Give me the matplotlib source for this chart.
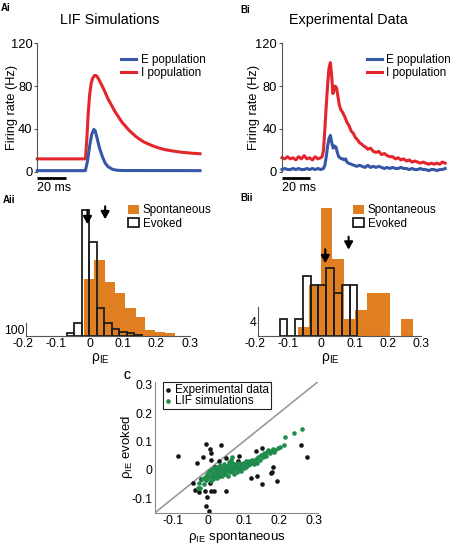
import numpy as np
import matplotlib
matplotlib.use('Agg')
import matplotlib.pyplot as plt

plt.rcParams['font.family'] = ['Liberation Sans', 'DejaVu Sans']
plt.rcParams['mathtext.fontset'] = 'custom'
plt.rcParams['mathtext.rm'] = 'Liberation Sans'
plt.rcParams['mathtext.it'] = 'Liberation Sans:italic'
plt.rcParams['axes.unicode_minus'] = False

BLUE = '#3557a6'
RED = '#e2262c'
ORANGE = '#e07e22'
GREEN = '#1f8b4c'
SPINE = '#555555'

# ---- Ai: LIF simulations, firing rate (Hz) against time (ms)
lif_t_e = [0, 34, 35.5, 37, 38.5, 40, 41, 42.5, 44, 46, 48, 50, 53, 56, 60, 115]
lif_e = [1, 1, 10, 24, 35, 39.5, 38, 30, 22, 14, 8, 4.7, 2.3, 1.4, 1.1, 1]
lif_t_i = [0, 34, 35, 36, 37, 38, 39, 40.5, 42, 44, 47, 50, 55, 60, 65, 70, 75,
           80, 85, 90, 95, 100, 105, 110, 115]
lif_i = [12, 12, 30, 55, 72, 82, 87, 90, 89.5, 85, 77, 68, 56, 46, 38.5, 32.5, 28,
         25, 22.5, 20.7, 19.5, 18.5, 17.8, 17.2, 16.8]

# ---- Bi: experimental data
exp_t_i = [0, 2, 4, 6, 8, 10, 12, 14, 16, 18, 20, 22, 24, 26, 28, 29, 30, 31, 32, 33,
           34, 35, 36, 36.8, 37.5, 38.5, 39.5, 40.5, 41.5, 42.5, 44, 45.5, 47, 48.5,
           50, 51.5, 53, 54.5, 56, 57.5, 59, 60.5, 62, 64, 66, 68, 70, 72, 74, 76, 78,
           80, 82, 84, 86, 88, 90, 92, 94, 96, 98, 100, 102, 104, 106, 108, 110, 112,
           114, 116, 118]
exp_i = [13, 12, 14, 12, 13, 11, 14, 12, 15, 12, 13, 11, 14, 12, 13, 14, 20, 40, 62, 82,
         97, 102, 88, 73, 76, 80, 78, 70, 62, 58, 55, 51, 46, 43,
         38, 36, 32, 30, 27, 26, 24, 23, 21, 22, 19, 18, 19, 16, 17, 15, 14,
         14, 12, 13, 11, 12, 10, 11, 9, 10, 9, 8, 9, 8, 7, 8, 7, 8,
         7, 9, 8]
exp_t_e = [0, 2, 4, 6, 8, 10, 12, 14, 16, 18, 20, 22, 24, 26, 28, 30, 31, 32, 33, 34,
           35, 36, 37, 38, 39, 40, 41, 42, 43, 44, 45, 46, 47, 48, 50, 52, 54, 56, 58,
           60, 62, 64, 66, 68, 70, 72, 74, 76, 78, 80, 82, 84, 86, 88, 90, 92, 94, 96,
           98, 100, 102, 104, 106, 108, 110, 112, 114, 116, 118]
exp_e = [2, 3, 2, 2, 3, 2, 3, 2, 2, 3, 2, 3, 2, 3, 2, 3, 6, 14, 24, 31,
         34, 27, 22, 24, 23, 18, 14, 13, 12, 12, 11, 12, 9, 8, 7, 6, 5, 6, 5,
         4, 6, 4, 5, 4, 5, 4, 3, 4, 3, 4, 3, 3, 4, 3, 3, 2, 3, 2,
         2, 3, 2, 2, 1, 2, 2, 1, 2, 2, 3]

# ---- Aii: LIF rho_IE histograms
lif_evk_edges = [-0.0684, -0.0459, -0.0234, -0.0009, 0.0216, 0.0441, 0.0666, 0.0891,
                 0.1116, 0.1341, 0.1566]
lif_evk_counts = [21, 108, 1042, 783, 233, 108, 50, 29, 21, 8]
lif_spt_edges = [-0.017, 0.015, 0.046, 0.077, 0.108, 0.139, 0.168, 0.198, 0.228, 0.258]
lif_spt_counts = [467, 633, 442, 350, 233, 150, 46, 29, 17]
lif_means = {'evoked': -0.006, 'spont': 0.047}

# ---- Bii: experimental rho_IE histograms
exp_evk_edges = [-0.125, -0.1017, -0.0784, -0.0551, -0.0318, -0.0085, 0.0148, 0.0381,
                 0.0614, 0.0847, 0.108]
exp_evk_counts = [2, 0, 2, 7, 6, 6, 8, 5, 6, 6]
exp_spt_edges = [-0.071, -0.0365, -0.002, 0.0325, 0.067, 0.1015, 0.136, 0.1705, 0.205,
                 0.2395, 0.274]
exp_spt_counts = [1, 6, 15, 9, 2, 3, 5, 5, 0, 2]
exp_means = {'evoked': 0.012, 'spont': 0.082}

# ---- C: evoked vs spontaneous rho_IE
exp_spont = [-0.085, -0.005, 0.005, 0.009, 0.037, -0.014, 0.009, -0.031, 0.030, 0.051,
             0.018, 0.088, 0.085, 0.135, 0.153, 0.263, 0.279, 0.183, 0.181, 0.176,
             0.193, 0.153, 0.138, 0.120, -0.042, -0.020, 0.005, -0.036, -0.026, -0.008,
             0.009, 0.016, 0.051, -0.003, -0.005, 0.002, 0.030, 0.060]
exp_evoked = [0.050, 0.092, 0.072, 0.060, 0.086, 0.044, 0.035, 0.023, 0.033, 0.041,
              0.009, 0.050, 0.030, 0.066, 0.076, 0.086, 0.047, 0.012, -0.006, -0.012,
              -0.038, -0.049, -0.020, -0.028, -0.046, -0.032, -0.046, -0.070, -0.076,
              -0.073, -0.073, -0.075, -0.073, -0.096, -0.126, -0.143, -0.020, 0.000]
lif_spont = [-0.030, -0.022, -0.026, -0.018, -0.012, -0.008, -0.005, -0.002, 0.000,
             0.003, 0.005, 0.008, 0.010, 0.012, 0.014, 0.016, 0.018, 0.020, 0.022,
             0.024, 0.026, 0.028, 0.030, 0.032, 0.034, 0.036, 0.038, 0.040, 0.042,
             0.044, 0.046, 0.048, 0.050, 0.052, 0.054, 0.056, 0.058, 0.060, 0.062,
             0.064, 0.066, 0.068, 0.070, 0.072, 0.074, 0.076, 0.078, 0.080, 0.082,
             0.084, 0.086, 0.088, 0.090, 0.092, 0.094, 0.096, 0.098, 0.100, 0.102,
             0.104, 0.106, 0.108, 0.110, 0.113, 0.116, 0.119, 0.122, 0.125, 0.128,
             0.131, 0.135, 0.138, 0.142, 0.146, 0.150, 0.154, 0.158, 0.162, 0.166,
             0.170, 0.174, 0.178, 0.182, 0.186, 0.190, 0.196, 0.204, 0.214, 0.218,
             0.242, 0.264, 0.067, 0.065, 0.015, 0.045, 0.025, 0.058]
lif_evoked = [-0.065, -0.062, -0.045, -0.030, -0.048, -0.025, -0.035, -0.015, -0.028,
              -0.005, -0.020, -0.038, -0.010, 0.002, -0.025, -0.012, 0.006, -0.018,
              -0.004, 0.012, -0.028, -0.010, 0.004, -0.018, 0.016, -0.002, -0.022,
              0.008, -0.012, 0.020, 0.000, -0.015, 0.010, -0.005, 0.014, -0.020, 0.004,
              0.018, -0.008, 0.008, 0.024, -0.002, 0.012, -0.014, 0.004, 0.020, 0.008,
              -0.006, 0.014, 0.026, 0.002, 0.016, 0.008, 0.022, -0.004, 0.012, 0.026,
              0.018, 0.006, 0.022, 0.030, 0.012, 0.024, 0.016, 0.032, 0.020, 0.028,
              0.036, 0.022, 0.030, 0.040, 0.026, 0.046, 0.036, 0.052, 0.044, 0.058,
              0.050, 0.062, 0.070, 0.058, 0.066, 0.072, 0.064, 0.070, 0.076, 0.082,
              0.088, 0.116, 0.130, 0.144, 0.047, 0.035, -0.030, 0.010, 0.000, 0.028]

W, H = 454, 547
fig = plt.figure(figsize=(W / 100, H / 100), dpi=100)


def add_ax(l, t, r, b):
    return fig.add_axes([l / W, 1 - b / H, (r - l) / W, (b - t) / H])


def rate_panel(ax, te, e, ti, i, xmax, ylab_x):
    ax.plot(te, e, color=BLUE, lw=2.2, label='E population', clip_on=False, zorder=3)
    ax.plot(ti, i, color=RED, lw=2.2, label='I population', clip_on=False, zorder=2)
    ax.set_xlim(0, xmax)
    ax.set_ylim(0, 120)
    for s in ['top', 'right', 'bottom']:
        ax.spines[s].set_visible(False)
    ax.spines['left'].set_color(SPINE)
    ax.set_xticks([])
    ax.set_yticks([0, 40, 80, 120])
    ax.tick_params(axis='y', labelsize=9.3, length=2, pad=1.5, color=SPINE)
    ax.set_ylabel('Firing rate (Hz)', fontsize=9.2)
    ax.yaxis.set_label_coords(ylab_x, 0.5)
    # 20 ms scale bar
    ax.plot([0, 20], [-5.5, -5.5], color='k', lw=2, clip_on=False, solid_capstyle='butt')
    ax.text(0, -15.5, '20 ms', fontsize=9, va='center', ha='left')
    ax.legend(loc='upper left', bbox_to_anchor=(0.515, 0.915), frameon=False,
              fontsize=8.4, handlelength=1.3, handletextpad=0.4, labelspacing=0.05,
              borderpad=0, borderaxespad=0)


def hist_panel(ax, se, sc, ee, ec, ymax, bar_h, bar_lab, leg_x, xlab_x):
    ax.bar(se[:-1], sc, width=np.diff(se), align='edge', color=ORANGE, lw=0,
           label='Spontaneous', zorder=1)
    ax.bar(ee[:-1], ec, width=np.diff(ee), align='edge', fill=False, edgecolor='#1e1e1e',
           lw=1.3, label='Evoked', zorder=2)
    ax.set_xlim(-0.2, 0.3)
    ax.set_ylim(0, ymax)
    for s in ['top', 'right']:
        ax.spines[s].set_visible(False)
    ax.spines['left'].set_position(('data', -0.19))
    ax.spines['left'].set_bounds(0, bar_h)
    ax.spines['left'].set_color(SPINE)
    ax.spines['bottom'].set_bounds(-0.19, 0.3)
    ax.spines['bottom'].set_color(SPINE)
    ax.set_yticks([bar_h / 2])
    ax.set_yticklabels([bar_lab])
    ax.tick_params(axis='y', length=0, labelsize=8.8, pad=1)
    ax.set_xticks([-0.2, -0.1, 0, 0.1, 0.2, 0.3])
    ax.set_xticklabels(['-0.2', '-0.1', '0', '0.1', '0.2', '0.3'])
    ax.tick_params(axis='x', length=0, labelsize=8.8, pad=2)
    ax.set_xlabel(r'$\mathrm{\rho_{IE}}$', fontsize=10)
    ax.xaxis.set_label_coords(xlab_x, -0.115)
    ax.legend(loc='upper left', bbox_to_anchor=(leg_x, 0.985), frameon=False,
              fontsize=8.4, handlelength=0.95, handleheight=0.8, handletextpad=0.3,
              labelspacing=0.1, borderpad=0, borderaxespad=0)


ax_ai = add_ax(37.3, 43.3, 200, 171.7)
rate_panel(ax_ai, lif_t_e, lif_e, lif_t_i, lif_i, 115, -0.117)
ax_bi = add_ax(282, 43.3, 446.3, 171.7)
rate_panel(ax_bi, exp_t_e, exp_e, exp_t_i, exp_i, 118.8, -0.136)

fig.text(110 / W, 1 - 20 / H, 'LIF Simulations', fontsize=10.4, ha='center', va='center')
fig.text(348 / W, 1 - 20 / H, 'Experimental Data', fontsize=10.4, ha='center', va='center')

ax_aii = add_ax(22.8, 202.5, 189.5, 335.5)
hist_panel(ax_aii, lif_spt_edges, lif_spt_counts, lif_evk_edges, lif_evk_counts,
           1108, 100, '100', 0.633, 0.465)
ax_bii = add_ax(254.6, 202.5, 421.3, 335.5)
hist_panel(ax_bii, exp_spt_edges, exp_spt_counts, exp_evk_edges, exp_evk_counts,
           15.65, 3.4, '4', 0.59, 0.455)

# mean arrows (tip height in data units)
arrow_kw = dict(arrowstyle='-|>,head_length=0.45,head_width=0.25', color='k', lw=1.5,
                shrinkA=0, shrinkB=0)
for ax, m, tips in [(ax_aii, lif_means, (927, 968)), (ax_bii, exp_means, (8.5, 10.1))]:
    ax.annotate('', xy=(m['evoked'], tips[0]), xytext=(0, 14), textcoords='offset pixels',
                arrowprops=arrow_kw, annotation_clip=False)
    ax.annotate('', xy=(m['spont'], tips[1]), xytext=(0, 13), textcoords='offset pixels',
                arrowprops=arrow_kw, annotation_clip=False)

# ---- C
ax_c = add_ax(155, 381.7, 318, 512.7)
ax_c.axline((0, 0), slope=1, color='#9a9a9a', lw=1.2, zorder=1)
ax_c.scatter(exp_spont, exp_evoked, s=11, color='#151515', lw=0, label='Experimental data',
             zorder=2)
ax_c.scatter(lif_spont, lif_evoked, s=11, color=GREEN, lw=0, label='LIF simulations',
             zorder=3)
ax_c.set_xlim(-0.15, 0.31)
ax_c.set_ylim(-0.15, 0.31)
for s in ['top', 'right']:
    ax_c.spines[s].set_visible(False)
for s in ['left', 'bottom']:
    ax_c.spines[s].set_color('#8a8a8a')
ticks = [-0.1, 0, 0.1, 0.2, 0.3]
labs = ['-0.1', '0', '0.1', '0.2', '0.3']
ax_c.set_xticks(ticks)
ax_c.set_xticklabels(labs)
ax_c.set_yticks(ticks)
ax_c.set_yticklabels(labs)
ax_c.tick_params(labelsize=8.8, length=0, pad=2)
ax_c.set_xlabel(r'$\mathrm{\rho_{IE}}$ spontaneous', fontsize=9.5, labelpad=1)
ax_c.set_ylabel(r'$\mathrm{\rho_{IE}}$ evoked', fontsize=9.5)
ax_c.yaxis.set_label_coords(-0.12, 0.5)
leg = ax_c.legend(loc='upper left', bbox_to_anchor=(0.049, 0.995), fontsize=8.4,
                  scatterpoints=1, handlelength=0.6, handletextpad=0.3, labelspacing=-0.1,
                  borderpad=0.15, borderaxespad=0, fancybox=False, framealpha=1,
                  edgecolor='#222222')
leg.get_frame().set_linewidth(0.8)

# panel labels
for txt, x, y in [('Ai', 1, 8), ('Bi', 240, 10), ('Aii', 3, 200), ('Bii', 240, 198),
                  ('C', 124, 376)]:
    fig.text(x / W, 1 - y / H, txt, fontsize=7, fontweight='bold', va='center', ha='left')

fig.savefig('out.png', dpi=100)
